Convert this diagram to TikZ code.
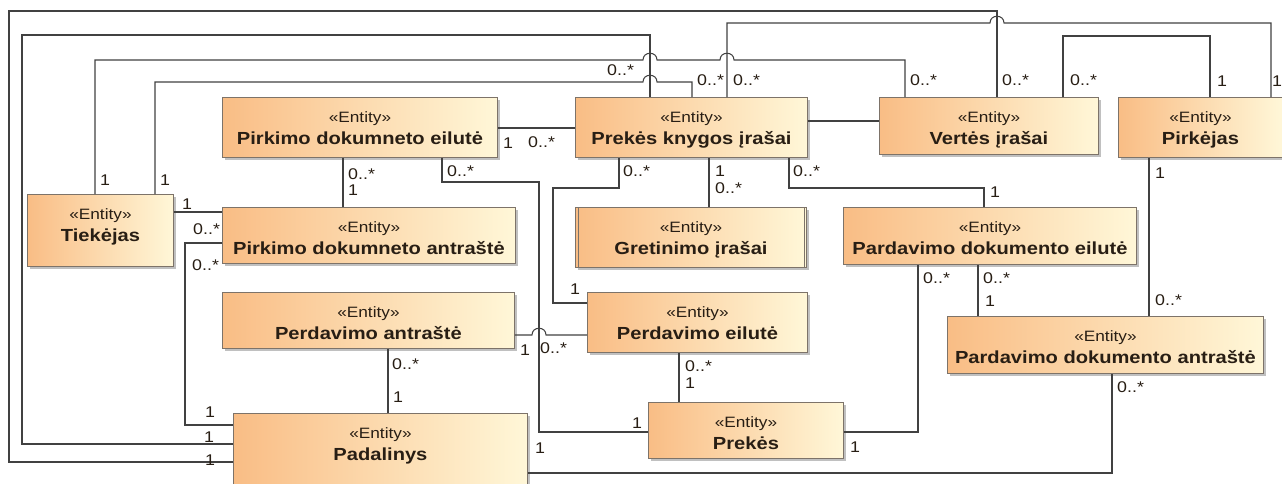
\documentclass[tikz,border=0pt]{standalone}
\usepackage{fontspec}
\setmainfont{Liberation Sans}[FakeStretch=1.15]
\usetikzlibrary{shadows}

\definecolor{boxorange}{RGB}{249,189,133}
\definecolor{boxcream}{RGB}{255,247,216}
\definecolor{boxedge}{RGB}{125,115,105}
\definecolor{wirecol}{RGB}{65,65,65}
\definecolor{ink}{RGB}{40,30,20}

\tikzset{
  entitybox/.style={rectangle, draw=boxedge, line width=0.9pt,
    left color=boxorange, right color=boxcream,
    drop shadow={shadow xshift=3pt, shadow yshift=-3pt, opacity=0.35, fill=black!70},
    anchor=north west, inner sep=0pt},
  stereo/.style={font=\fontsize{15}{18}\selectfont, text=ink, inner sep=0pt},
  ename/.style={font=\fontsize{17.5}{21}\selectfont\bfseries, text=ink, inner sep=0pt},
  wire/.style={draw=wirecol, line width=1.05pt},
  mult/.style={font=\fontsize{15.5}{18}\selectfont, text=ink, inner sep=0pt, anchor=west},
}

% an entity: name, left x, top y, width, height, title
\newcommand{\entity}[6]{%
  \node[entitybox, minimum width=#4pt, minimum height=#5pt] (#1) at (#2,#3) {};
  \node[stereo, anchor=base] (#1-s) at ([yshift=-25pt]#1.north) {«Entity»};
  \node[ename, anchor=base] (#1-n) at ([yshift=-47.5pt]#1.north) {#6};
}

\begin{document}
\begin{tikzpicture}[x=1pt, y=-1pt]
\useasboundingbox (0,0) rectangle (1282,483);
\fill[white] (0,0) rectangle (1282,483);
\clip (0,0) rectangle (1282,483);

% ---- entities ----
\entity{pde}{222}{97}{275}{60}{Pirkimo dokumneto eilutė}
\entity{pki}{575}{97}{232}{60}{Prekės knygos įrašai}
\entity{vi}{879}{97}{219}{57}{Vertės įrašai}
\entity{pir}{1118}{97}{164}{60}{Pirkėjas}
\entity{tie}{27}{194}{146}{72}{Tiekėjas}
\entity{pda}{222}{207}{293}{56}{Pirkimo dokumneto antraštė}
\entity{gi}{575}{207}{231}{60}{Gretinimo įrašai}
\entity{pdoe}{843}{207}{293}{57}{Pardavimo dokumento eilutė}
\entity{pa}{222}{292}{292}{56}{Perdavimo antraštė}
\entity{pe}{587}{292}{220}{60}{Perdavimo eilutė}
\entity{pdoa}{947}{316}{316}{57}{Pardavimo dokumento antraštė}
\entity{pre}{648}{402}{195}{56}{Prekės}
\entity{pad}{233}{413}{294}{85}{Padalinys}

% double side edges of the stacked box
\draw[boxedge, line width=0.8pt] ([xshift=3pt]gi.north west) -- ([xshift=3pt]gi.south west);
\draw[boxedge, line width=0.8pt] ([xshift=-3pt]gi.north east) -- ([xshift=-3pt]gi.south east);

% ---- associations ----
% Padalinys -- Vertes irasai (outermost)
\draw[wire] (pad.west |- 0,462) -- (9,462) -- (9,11) -- (997,11) -- (vi.north -| 997,0);
% Padalinys -- Prekes knygos irasai
\draw[wire] (pad.west |- 0,444) -- (22,444) -- (22,35) -- (650,35) -- (pki.north -| 650,0);
% Tiekejas -- Vertes irasai
\draw[wire] (tie.north -| 95,0) -- (95,60) -- (643,60) .. controls (643,51) and (657,51) .. (657,60)
  -- (720,60) .. controls (720,51) and (734,51) .. (734,60) -- (905,60) -- (vi.north -| 905,0);
% Tiekejas -- Prekes knygos irasai
\draw[wire] (tie.north -| 155,0) -- (155,82) -- (643,82) .. controls (643,73) and (657,73) .. (657,82)
  -- (692,82) -- (pki.north -| 692,0);
% Prekes knygos irasai -- Pirkejas
\draw[wire] (pki.north -| 727,0) -- (727,23) -- (990,23) .. controls (990,14) and (1004,14) .. (1004,23)
  -- (1271,23) -- (pir.north -| 1271,0);
% Vertes irasai -- Pirkejas
\draw[wire] (vi.north -| 1063,0) -- (1063,36) -- (1210,36) -- (pir.north -| 1210,0);
% Pirkimo dokumneto eilute -- Prekes knygos irasai
\draw[wire] (pde.east |- 0,128) -- (pki.west |- 0,128);
% Prekes knygos irasai -- Vertes irasai
\draw[wire] (pki.east |- 0,121) -- (vi.west |- 0,121);
% Pirkimo dokumneto eilute -- Pirkimo dokumneto antraste
\draw[wire] (pde.south -| 343,0) -- (pda.north -| 343,0);
% Pirkimo dokumneto eilute -- Prekes
\draw[wire] (pde.south -| 442,0) -- (442,182) -- (539,182) -- (539,432) -- (pre.west |- 0,432);
% Prekes knygos irasai -- Perdavimo eilute
\draw[wire] (pki.south -| 619,0) -- (619,188) -- (553,188) -- (553,303) -- (pe.west |- 0,303);
% Prekes knygos irasai -- Gretinimo irasai
\draw[wire] (pki.south -| 709,0) -- (gi.north -| 709,0);
% Prekes knygos irasai -- Pardavimo dokumento eilute
\draw[wire] (pki.south -| 789,0) -- (789,188) -- (984,188) -- (pdoe.north -| 984,0);
% Tiekejas -- Pirkimo dokumneto antraste
\draw[wire] (tie.east |- 0,212) -- (pda.west |- 0,212);
% Pirkimo dokumneto antraste -- Padalinys
\draw[wire] (pda.west |- 0,243) -- (185,243) -- (185,425) -- (pad.west |- 0,425);
% Perdavimo antraste -- Padalinys
\draw[wire] (pa.south -| 388,0) -- (pad.north -| 388,0);
% Perdavimo antraste -- Perdavimo eilute
\draw[wire] (pa.east |- 0,335) -- (532,335) .. controls (532,326) and (546,326) .. (546,335) -- (pe.west |- 0,335);
% Perdavimo eilute -- Prekes
\draw[wire] (pe.south -| 679,0) -- (pre.north -| 679,0);
% Prekes -- Pardavimo dokumento eilute
\draw[wire] (pre.east |- 0,432) -- (918,432) -- (pdoe.south -| 918,0);
% Pardavimo dokumento eilute -- Pardavimo dokumento antraste
\draw[wire] (pdoe.south -| 978,0) -- (pdoa.north -| 978,0);
% Pirkejas -- Pardavimo dokumento antraste
\draw[wire] (pir.south -| 1149,0) -- (pdoa.north -| 1149,0);
% Padalinys -- Pardavimo dokumento antraste
\draw[wire] (pad.east |- 0,473) -- (1112,473) -- (pdoa.south -| 1112,0);

% ---- multiplicities ----
\node[mult] (mA1) at (205,460) {1};
\node[mult] (mA2) at (1002,80) {0..*};
\node[mult] (mB1) at (204,437) {1};
\node[mult] (mB2) at (607,70) {0..*};
\node[mult] (mC1) at (100,180) {1};
\node[mult] (mC2) at (910,80) {0..*};
\node[mult] (mD1) at (160,180) {1};
\node[mult] (mD2) at (697,80) {0..*};
\node[mult] (mE1) at (733,80) {0..*};
\node[mult] (mE2) at (1272,81) {1};
\node[mult] (mF1) at (1070,80) {0..*};
\node[mult] (mF2) at (1217,81) {1};
\node[mult] (mG1) at (503,143) {1};
\node[mult] (mG2) at (528,142) {0..*};
\node[mult] (mI1) at (348,174) {0..*};
\node[mult] (mI2) at (348,190) {1};
\node[mult] (mJ1) at (447,171) {0..*};
\node[mult] (mJ2) at (632,423) {1};
\node[mult] (mK1) at (623,171) {0..*};
\node[mult] (mK2) at (570,289) {1};
\node[mult] (mL1) at (715,171) {1};
\node[mult] (mL2) at (715,188) {0..*};
\node[mult] (mM1) at (793,171) {0..*};
\node[mult] (mM2) at (990,192) {1};
\node[mult] (mN1) at (182,204) {1};
\node[mult] (mN2) at (193,229) {0..*};
\node[mult] (mO1) at (192,265) {0..*};
\node[mult] (mO2) at (205,412) {1};
\node[mult] (mP1) at (392,364) {0..*};
\node[mult] (mP2) at (393,397) {1};
\node[mult] (mQ1) at (520,350) {1};
\node[mult] (mQ2) at (540,348) {0..*};
\node[mult] (mR1) at (685,366) {0..*};
\node[mult] (mR2) at (685,383) {1};
\node[mult] (mS1) at (850,447) {1};
\node[mult] (mS2) at (923,278) {0..*};
\node[mult] (mT1) at (983,278) {0..*};
\node[mult] (mT2) at (985,301) {1};
\node[mult] (mU1) at (1155,173) {1};
\node[mult] (mU2) at (1155,300) {0..*};
\node[mult] (mV1) at (535,448) {1};
\node[mult] (mV2) at (1117,387) {0..*};
\end{tikzpicture}
\end{document}
